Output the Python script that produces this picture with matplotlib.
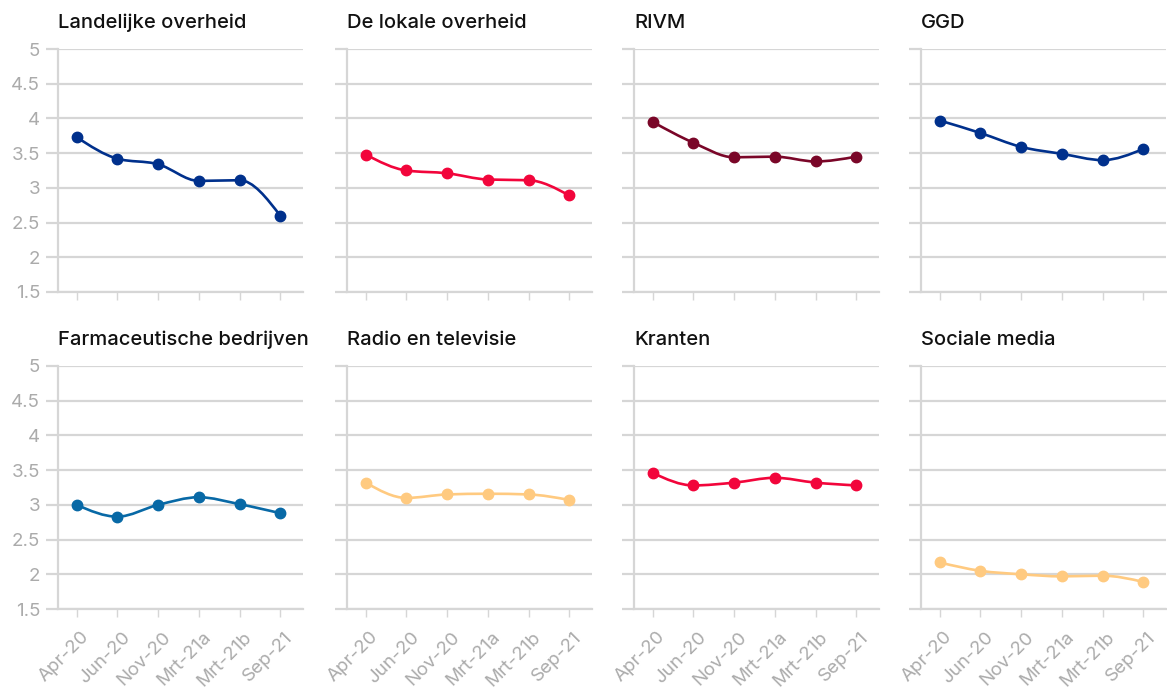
"""Small multiples: trust in information sources per survey wave."""

import matplotlib
matplotlib.use("Agg")
import matplotlib.pyplot as plt
import matplotlib.transforms as mtransforms
import numpy as np
from matplotlib.patches import PathPatch
from matplotlib.path import Path

waves = ["Apr-20", "Jun-20", "Nov-20", "Mrt-21a", "Mrt-21b", "Sep-21"]

landelijke_overheid = [3.73, 3.42, 3.34, 3.10, 3.11, 2.60]
lokale_overheid = [3.48, 3.25, 3.21, 3.12, 3.11, 2.89]
rivm = [3.95, 3.65, 3.44, 3.45, 3.38, 3.45]
ggd = [3.97, 3.79, 3.59, 3.49, 3.40, 3.56]
farma = [3.00, 2.83, 3.00, 3.11, 3.01, 2.88]
radio_tv = [3.32, 3.10, 3.15, 3.16, 3.15, 3.07]
kranten = [3.46, 3.28, 3.32, 3.39, 3.32, 3.28]
sociale_media = [2.17, 2.05, 2.00, 1.97, 1.98, 1.89]

titles = ["Landelijke overheid", "De lokale overheid", "RIVM", "GGD",
          "Farmaceutische bedrijven", "Radio en televisie", "Kranten", "Sociale media"]
series = [landelijke_overheid, lokale_overheid, rivm, ggd,
          farma, radio_tv, kranten, sociale_media]

NAVY = "#00308C"
RED = "#F2053B"
MAROON = "#7A0628"
BLUE = "#0869A6"
ORANGE = "#FFCA80"
colors = [NAVY, RED, MAROON, NAVY, BLUE, ORANGE, RED, ORANGE]

y_ticks = [1.5, 2, 2.5, 3, 3.5, 4, 4.5, 5]
GRID = "#d6d6d6"
TICK_TXT = "#ababab"


def _slope3(x0, y0, x1, y1, x2, y2):
    h0, h1 = x1 - x0, x2 - x1
    s0, s1 = (y1 - y0) / h0, (y2 - y1) / h1
    p = (s0 * h1 + s1 * h0) / (h0 + h1)
    sg = (1 if s0 >= 0 else -1) + (1 if s1 >= 0 else -1)
    return sg * min(abs(s0), abs(s1), 0.5 * abs(p))


def monotone_path(x, y):
    """Cubic bezier path through the points (like d3 curveMonotoneX)."""
    n = len(x)
    t = [0.0] * n
    for i in range(1, n - 1):
        t[i] = _slope3(x[i - 1], y[i - 1], x[i], y[i], x[i + 1], y[i + 1])
    t[0] = (3 * (y[1] - y[0]) / (x[1] - x[0]) - t[1]) / 2
    t[-1] = (3 * (y[-1] - y[-2]) / (x[-1] - x[-2]) - t[-2]) / 2
    verts = [(x[0], y[0])]
    codes = [Path.MOVETO]
    for i in range(n - 1):
        dx = (x[i + 1] - x[i]) / 3
        verts += [(x[i] + dx, y[i] + dx * t[i]),
                  (x[i + 1] - dx, y[i + 1] - dx * t[i + 1]),
                  (x[i + 1], y[i + 1])]
        codes += [Path.CURVE4] * 3
    return Path(verts, codes)


plt.rcParams["font.family"] = ["Inter", "DejaVu Sans"]
fig = plt.figure(figsize=(11.67, 6.88), dpi=100)
W, H = 1167, 688

lefts = [58, 347, 634, 921]
tops = [49, 366]
ax_w, ax_h = 245, 243

# shift rotated tick labels a bit to the right of their tick
label_shift = mtransforms.ScaledTranslation(4 / 100, 0, fig.dpi_scale_trans)

x = np.arange(len(waves))
for k, (title, vals, col) in enumerate(zip(titles, series, colors)):
    row, c = divmod(k, 4)
    ax = fig.add_axes([lefts[c] / W, 1 - (tops[row] + ax_h) / H, ax_w / W, ax_h / H])
    ax.set_xlim(-0.46, 5.56)
    ax.set_ylim(1.5, 5)

    for s in ["top", "right"]:
        ax.spines[s].set_visible(False)
    for s in ["left", "bottom"]:
        ax.spines[s].set_color(GRID)
        ax.spines[s].set_linewidth(1.6)
        ax.spines[s].set_zorder(0.5)

    ax.set_yticks(y_ticks)
    ax.yaxis.grid(True, color=GRID, linewidth=1.6)
    ax.set_axisbelow(True)
    ax.tick_params(axis="y", length=9, width=1.6, color=GRID, pad=4)
    if c == 0:
        ax.set_yticklabels([f"{v:g}" for v in y_ticks], color=TICK_TXT,
                           fontsize=13.5, fontweight="normal")
    else:
        ax.set_yticklabels([])

    ax.set_xticks(x)
    ax.tick_params(axis="x", length=6, width=1, color=GRID, pad=8)
    if row == 1:
        ax.set_xticklabels(waves, rotation=45, ha="right", va="top",
                           rotation_mode="anchor", color=TICK_TXT,
                           fontsize=13.5, fontweight="normal")
        for lab in ax.get_xticklabels():
            lab.set_transform(lab.get_transform() + label_shift)
    else:
        ax.set_xticklabels([])

    ax.add_patch(PathPatch(monotone_path(list(x), vals), facecolor="none",
                           edgecolor=col, linewidth=1.9, zorder=3))
    ax.plot(x, vals, linestyle="none", marker="o", markersize=7.5,
            color=col, zorder=4, clip_on=False)

    ax.text(0, 1.085, title, transform=ax.transAxes, ha="left", va="baseline",
            fontsize=14.5, fontweight="medium", color="#111111")

fig.savefig("out.png", dpi=100)
